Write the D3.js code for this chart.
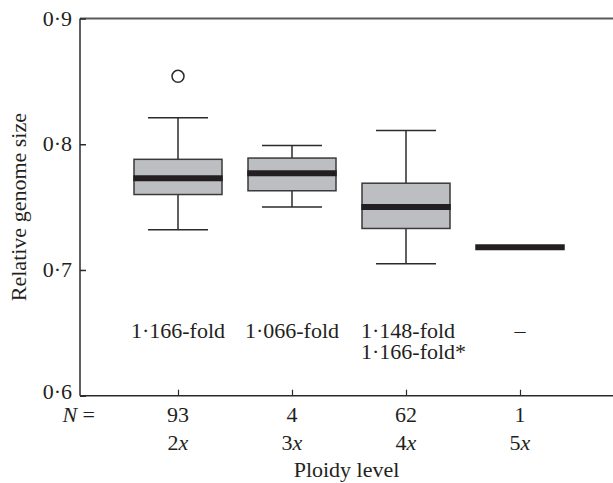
<!DOCTYPE html>
<html>
<head>
<meta charset="utf-8">
<script src="https://cdn.jsdelivr.net/npm/d3@7/dist/d3.min.js"></script>
<style>
  html, body { margin: 0; padding: 0; background: #fff; }
  text { font-family: "Liberation Serif", serif; fill: #231f20; }
</style>
</head>
<body>
<svg id="chart" width="613" height="483"></svg>
<script>
const categories = ["2x", "3x", "4x", "5x"];
const nCounts = [93, 4, 62, 1];
const whiskerLow = [0.732, 0.750, 0.705, null];
const q1 = [0.760, 0.763, 0.733, null];
const medians = [0.773, 0.777, 0.750, 0.718];
const q3 = [0.788, 0.789, 0.769, null];
const whiskerHigh = [0.821, 0.799, 0.811, null];
const outliers = [[0.854], [], [], []];
const foldLabels = [["1·166-fold"], ["1·066-fold"], ["1·148-fold", "1·166-fold*"], ["–"]];
const yTicks = [0.6, 0.7, 0.8, 0.9];
const yTickLabels = ["0·6", "0·7", "0·8", "0·9"];

(function () {
const svg = d3.select("#chart");
const mLeft = 80, mRight = 613, mTop = 18.5, mBottom = 395.7;
const x = d3.scalePoint().domain(categories).range([178, 520]);
const y = d3.scaleLinear().domain([0.6, 0.9]).range([mBottom, mTop]);
const boxW = 88, capW = 60, fs = 22;
const dark = "#2b2b2b";

// top frame line
svg.append("line").attr("x1", mLeft).attr("x2", mRight).attr("y1", mTop).attr("y2", mTop)
  .attr("stroke", "#5a5a5a").attr("stroke-width", 2);

// y axis
const yAxis = d3.axisLeft(y).tickValues(yTicks).tickSize(-6).tickPadding(14)
  .tickFormat((d, i) => yTickLabels[i]);
const gy = svg.append("g").attr("transform", `translate(${mLeft},0)`).call(yAxis);
gy.attr("font-family", null).attr("font-size", null);
gy.select(".domain").attr("stroke", dark).attr("stroke-width", 1.5).attr("d", `M0,${mTop}V${mBottom}`);
gy.selectAll(".tick line").attr("stroke", dark).attr("stroke-width", 1.5);
gy.selectAll(".tick text").attr("font-size", fs).attr("fill", "#231f20").attr("x", -8)
  .attr("dy", d => d === 0.6 ? "0.14em" : "0.3em");

// x axis
const xAxis = d3.axisBottom(x).tickSize(-6).tickFormat("");
const gx = svg.append("g").attr("transform", `translate(0,${mBottom})`).call(xAxis);
gx.select(".domain").attr("stroke", dark).attr("stroke-width", 1.5).attr("d", `M${mLeft},0H${mRight}`);
gx.selectAll(".tick line").attr("stroke", dark).attr("stroke-width", 1.2);

// N labels
const nText = svg.append("text").attr("x", 95).attr("y", 422).attr("text-anchor", "end").attr("font-size", fs);
nText.append("tspan").attr("font-style", "italic").text("N");
nText.append("tspan").text(" =");
svg.selectAll(".nlab").data(nCounts).join("text").attr("class", "nlab")
  .attr("x", (d, i) => x(categories[i])).attr("y", 422)
  .attr("text-anchor", "middle").attr("font-size", fs).text(d => d);

// category labels (e.g. 2x with italic x)
categories.forEach(c => {
  const t = svg.append("text").attr("x", x(c)).attr("y", 450).attr("text-anchor", "middle").attr("font-size", fs);
  t.append("tspan").text(c.slice(0, -1));
  t.append("tspan").attr("font-style", "italic").text(c.slice(-1));
});

// axis titles
svg.append("text").attr("x", (mLeft + mRight) / 2).attr("y", 477).attr("text-anchor", "middle")
  .attr("font-size", fs).text("Ploidy level");
svg.append("text").attr("transform", `translate(26,${(mTop + mBottom) / 2}) rotate(-90)`)
  .attr("text-anchor", "middle").attr("font-size", fs).text("Relative genome size");

// boxes
categories.forEach((c, i) => {
  const cx = x(c);
  const g = svg.append("g");
  if (whiskerLow[i] != null) {
    g.append("line").attr("x1", cx).attr("x2", cx).attr("y1", y(whiskerHigh[i])).attr("y2", y(q3[i]))
      .attr("stroke", dark).attr("stroke-width", 1.5);
    g.append("line").attr("x1", cx).attr("x2", cx).attr("y1", y(q1[i])).attr("y2", y(whiskerLow[i]))
      .attr("stroke", dark).attr("stroke-width", 1.5);
    [whiskerHigh[i], whiskerLow[i]].forEach(v => {
      g.append("line").attr("x1", cx - capW / 2).attr("x2", cx + capW / 2).attr("y1", y(v)).attr("y2", y(v))
        .attr("stroke", dark).attr("stroke-width", 1.5);
    });
    g.append("rect").attr("x", cx - boxW / 2).attr("width", boxW)
      .attr("y", y(q3[i])).attr("height", y(q1[i]) - y(q3[i]))
      .attr("fill", "#bdbec2").attr("stroke", "#3a3a3a").attr("stroke-width", 1.5);
  }
  g.append("line").attr("x1", cx - boxW / 2 - 0.75).attr("x2", cx + boxW / 2 + 0.75)
    .attr("y1", y(medians[i])).attr("y2", y(medians[i]))
    .attr("stroke", "#231f20").attr("stroke-width", 6);
  outliers[i].forEach(v => {
    g.append("circle").attr("cx", cx).attr("cy", y(v)).attr("r", 6)
      .attr("fill", "#fff").attr("stroke", dark).attr("stroke-width", 1.5);
  });
});

// fold-change annotations (one text element per line)
foldLabels.forEach((lines, i) => {
  const cx = x(categories[i]);
  const multi = lines.length > 1;
  lines.forEach((l, j) => {
    svg.append("text").attr("font-size", fs)
      .attr("text-anchor", multi ? "start" : "middle")
      .attr("x", multi ? 361 : cx).attr("y", 338 + j * 20.5).text(l);
  });
});
})();
</script>
</body>
</html>
